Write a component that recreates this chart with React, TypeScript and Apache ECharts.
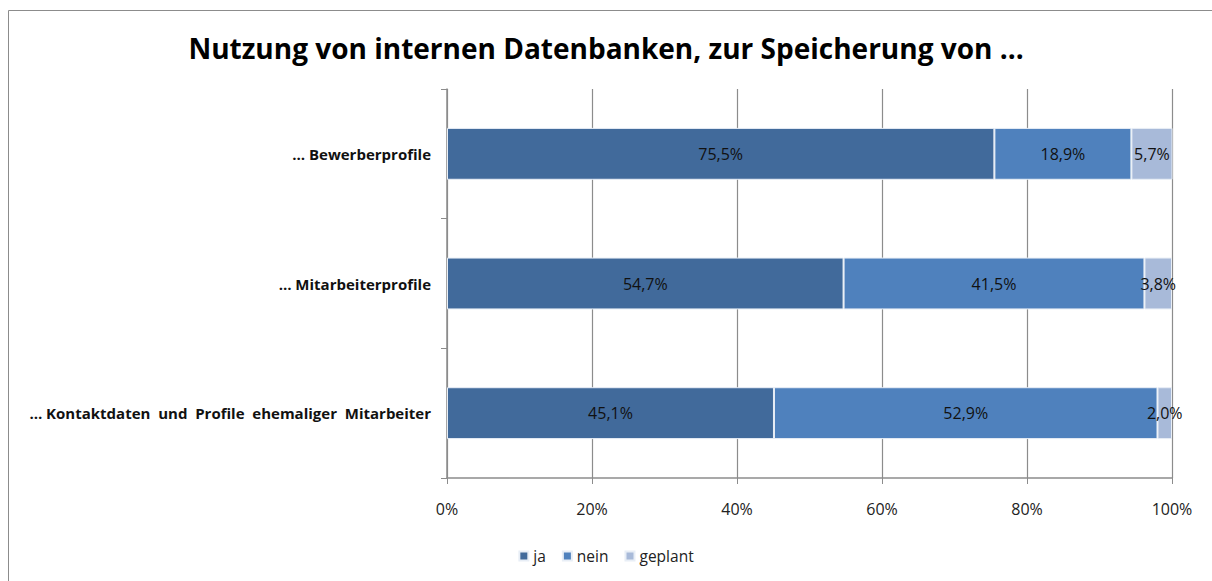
import React, { useEffect, useRef } from "react";
import * as echarts from "echarts";

const categories = [
  "… Bewerberprofile",
  "… Mitarbeiterprofile",
  "… Kontaktdaten  und  Profile  ehemaliger  Mitarbeiter",
];
const seriesNames = ["ja", "nein", "geplant"];
const ja = [75.5, 54.7, 45.1];
const nein = [18.9, 41.5, 52.9];
const geplant = [5.7, 3.8, 2.0];
const xTicks = [0, 20, 40, 60, 80, 100];
const colors = ["#416A9B", "#4F81BD", "#A8BAD9"];

const FONT = "'Open Sans', Lato, sans-serif";

export default function App() {
  const ref = useRef<HTMLDivElement>(null);
  useEffect(() => {
    if (!ref.current) return;
    const chart = echarts.init(ref.current, null, { renderer: "svg" });
    const data = [ja, nein, geplant];
    chart.setOption({
      animation: false,
      textStyle: { fontFamily: FONT },
      title: {
        text: "Nutzung von internen Datenbanken, zur Speicherung von ...",
        left: "center",
        top: 29,
        textStyle: { fontSize: 28, fontWeight: "bold", color: "#000", fontFamily: FONT },
      },
      graphic: [
        {
          type: "rect",
          shape: { x: 8.5, y: 10.5, width: 1230, height: 600 },
          style: { fill: "none", stroke: "#8c8c8c", lineWidth: 1 },
          silent: true,
          z: -1,
        },
      ],
      legend: {
        bottom: 12,
        left: "center",
        itemWidth: 9,
        itemHeight: 9,
        itemGap: 16,
        icon: "rect",
        textStyle: { fontSize: 15.5, color: "#222", fontFamily: FONT },
        data: seriesNames,
      },
      grid: { left: 447, right: 40, top: 89, bottom: 103, containLabel: false },
      xAxis: {
        type: "value",
        min: 0,
        max: 100,
        interval: 20,
        axisLine: { show: true, lineStyle: { color: "#8c8c8c", width: 1.5 } },
        axisTick: { show: true, length: 6, lineStyle: { color: "#8c8c8c" } },
        splitLine: { show: true, lineStyle: { color: "#8c8c8c", width: 1.2 } },
        axisLabel: {
          fontSize: 16,
          color: "#222",
          margin: 23,
          fontFamily: FONT,
          formatter: (v: number) => (xTicks.includes(v) ? v + "%" : ""),
        },
      },
      yAxis: {
        type: "category",
        inverse: true,
        data: categories,
        axisLine: { show: true, lineStyle: { color: "#8c8c8c", width: 1.5 } },
        axisTick: { show: true, length: 6, lineStyle: { color: "#8c8c8c" } },
        axisLabel: {
          fontSize: 15,
          fontWeight: "bold",
          color: "#111",
          margin: 16,
          fontFamily: FONT,
        },
      },
      series: seriesNames.map((name, i) => ({
        name,
        type: "bar",
        stack: "total",
        barWidth: "40%",
        data: data[i],
        itemStyle: { color: colors[i], borderColor: "#e8eef6", borderWidth: 1 },
        label: {
          show: true,
          position: "inside",
          color: "#111",
          fontSize: 16,
          fontFamily: FONT,
          formatter: (p: any) => p.value.toFixed(1).replace(".", ",") + "%",
        },
      })),
    });
    return () => chart.dispose();
  }, []);
  return <div ref={ref} style={{ width: 1212, height: 581, position: "absolute", left: 0, top: 0 }} />;
}
